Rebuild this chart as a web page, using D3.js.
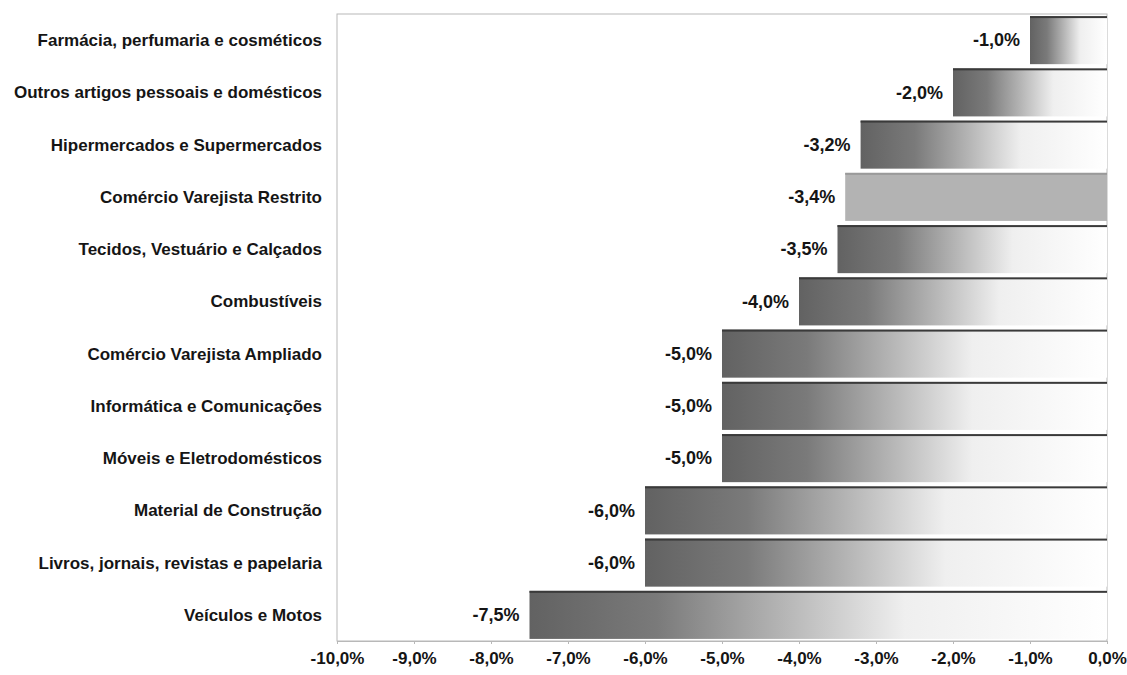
<!DOCTYPE html>
<html>
<head>
<meta charset="utf-8">
<script src="https://cdn.jsdelivr.net/npm/d3@7/dist/d3.min.js"></script>
<style>
  html, body { margin: 0; padding: 0; background: #fff; }
  svg { display: block; }
  text { font-family: "Liberation Sans", Arial, sans-serif; fill: #151515; }
</style>
</head>
<body>
<svg id="chart" width="1127" height="675"></svg>
<script>
// Retail sectors and their percentage change
const categories = [
  "Farmácia, perfumaria e cosméticos",
  "Outros artigos pessoais e domésticos",
  "Hipermercados e Supermercados",
  "Comércio Varejista Restrito",
  "Tecidos, Vestuário e Calçados",
  "Combustíveis",
  "Comércio Varejista Ampliado",
  "Informática e Comunicações",
  "Móveis e Eletrodomésticos",
  "Material de Construção",
  "Livros, jornais, revistas e papelaria",
  "Veículos e Motos"
];
const values = [-1.0, -2.0, -3.2, -3.4, -3.5, -4.0, -5.0, -5.0, -5.0, -6.0, -6.0, -7.5];
const highlighted = ["Comércio Varejista Restrito"];
const tickValues = [-10, -9, -8, -7, -6, -5, -4, -3, -2, -1, 0];

const fmt = v => v.toFixed(1).replace(".", ",") + "%";

const svg = d3.select("#chart");
const margin = { left: 337, right: 20, top: 14, bottom: 34 };
const W = 1127, H = 675;

const x = d3.scaleLinear().domain([-10, 0]).range([margin.left, W - margin.right]);
const y = d3.scaleBand().domain(categories).range([margin.top, H - margin.bottom]).paddingInner(0.08).paddingOuter(0.04);

// Gradient fill: dark grey on the left fading to white
const defs = svg.append("defs");
const grad = defs.append("linearGradient").attr("id", "barGrad")
  .attr("x1", "0%").attr("x2", "100%").attr("y1", "0%").attr("y2", "0%");
grad.append("stop").attr("offset", "0%").attr("stop-color", "#626262");
grad.append("stop").attr("offset", "22%").attr("stop-color", "#7a7a7a");
grad.append("stop").attr("offset", "45%").attr("stop-color", "#b8b8b8");
grad.append("stop").attr("offset", "65%").attr("stop-color", "#efefef");
grad.append("stop").attr("offset", "100%").attr("stop-color", "#ffffff");

// Plot frame
svg.append("rect")
  .attr("x", x(-10)).attr("y", margin.top)
  .attr("width", x(0) - x(-10)).attr("height", H - margin.bottom - margin.top)
  .attr("fill", "none").attr("stroke", "#b8b8b8").attr("stroke-width", 1);

// Bars
const bars = svg.append("g").selectAll("g").data(categories).join("g");
bars.append("rect")
  .attr("x", (d, i) => x(values[i]))
  .attr("y", d => y(d))
  .attr("width", (d, i) => x(0) - x(values[i]))
  .attr("height", y.bandwidth())
  .attr("fill", d => highlighted.includes(d) ? "#b3b3b3" : "url(#barGrad)");
// darker top edge of each bar
bars.append("rect")
  .attr("x", (d, i) => x(values[i]))
  .attr("y", d => y(d))
  .attr("width", (d, i) => x(0) - x(values[i]))
  .attr("height", 2)
  .attr("fill", d => highlighted.includes(d) ? "#9a9a9a" : "#3a3a3a");

// Value labels
bars.append("text")
  .attr("x", (d, i) => x(values[i]) - 10)
  .attr("y", d => y(d) + y.bandwidth() / 2)
  .attr("dy", "0.35em")
  .attr("text-anchor", "end")
  .attr("font-size", 18)
  .attr("font-weight", "bold")
  .text((d, i) => fmt(values[i]));

// Category labels
svg.append("g").selectAll("text").data(categories).join("text")
  .attr("x", margin.left - 15)
  .attr("y", d => y(d) + y.bandwidth() / 2)
  .attr("dy", "0.35em")
  .attr("text-anchor", "end")
  .attr("font-size", 17)
  .attr("font-weight", "bold")
  .text(d => d);

// X axis
const xAxis = d3.axisBottom(x).tickValues(tickValues).tickSize(3).tickPadding(8).tickFormat(fmt);
const gx = svg.append("g")
  .attr("transform", `translate(0,${H - margin.bottom})`)
  .call(xAxis);
gx.select(".domain").attr("stroke", "#b8b8b8");
gx.selectAll(".tick line").attr("stroke", "#b8b8b8");
gx.selectAll(".tick text")
  .attr("font-size", 17)
  .attr("font-weight", "bold")
  .attr("fill", "#151515")
  .style("font-family", "'Liberation Sans', Arial, sans-serif");
</script>
</body>
</html>
